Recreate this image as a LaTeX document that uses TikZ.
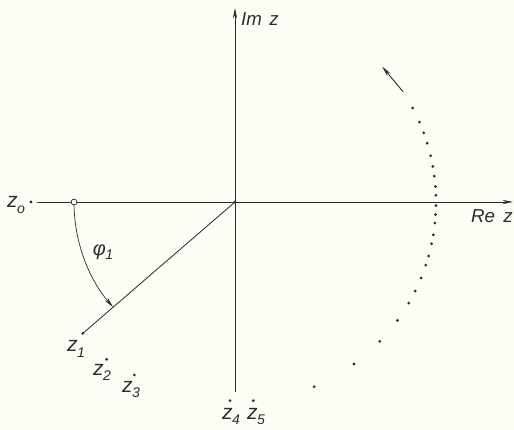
\documentclass[tikz,border=0pt]{standalone}
\usepackage{fontspec}
\setmainfont{Liberation Sans}
\usetikzlibrary{arrows.meta}
\definecolor{paper}{RGB}{253,253,246}
\definecolor{ink}{RGB}{45,45,45}
\newcommand{\zlab}[1]{\textit{z}\kern-0.5pt\raisebox{-0.45ex}{\fontsize{12}{12}\selectfont\textit{#1}}}
\begin{document}
\begin{tikzpicture}[x=0.03cm, y=0.03cm, every node/.style={font=\fontsize{16}{18}\selectfont\itshape, text=ink},
    pt/.style={circle, fill=ink, inner sep=0pt, minimum size=2.6pt},
    zname/.style={anchor=base west, inner sep=0pt, font=\fontsize{18}{20}\selectfont\itshape},
    tip/.style={-{Stealth[length=9pt, width=3.6pt]}}]
    \fill[paper] (-235,-228) rectangle (279,202);
    \useasboundingbox (-235,-228) rectangle (279,202);
    % axes
    \coordinate (O) at (0,0);
    \coordinate (xl) at (-198,0);
    \coordinate (xr) at (278,0);
    \coordinate (yb) at (0,-190);
    \coordinate (yt) at (0,194);
    \draw[ink, line width=0.8pt, tip] (xl) -- (xr);
    \draw[ink, line width=0.8pt, tip] (yb) -- (yt);
    \node (re) at (257,-14) {Re\hspace{0.45em}z};
    \node (im) at (25,182.5) {Im\hspace{0.4em}z};
    \node[pt] (o) at (O) {};
    % angle phi_1
    \coordinate (z1) at (220.8:201);
    \draw[ink, line width=0.7pt] (O) -- (z1);
    \node[pt] (p1) at (z1) {};
    \draw[ink, line width=0.6pt, tip] (-161,0) arc (180:220.8:161);
    \node[circle, draw=ink, fill=paper, line width=0.6pt, inner sep=0pt, minimum size=5pt] (c0) at (-161,0) {};
    \node[font=\fontsize{17}{19}\selectfont\itshape] (phi) at (-132,-50) {φ\kern-0.5pt\raisebox{-0.45ex}{\fontsize{12}{12}\selectfont\textit{1}}};
    % points z_k
    \node[pt] (p0) at (-204,0) {};
    \node[zname] (l0) at (-228,-6) {\zlab{o}};
    \node[zname] (l1) at (-168,-150) {\zlab{1}};
    \node[pt] (p2) at (-128.3,-157.3) {};
    \node[zname] (l2) at (-142,-173) {\zlab{2}};
    \node[pt] (p3) at (-100.7,-173) {};
    \node[zname] (l3) at (-113,-190) {\zlab{3}};
    \node[pt] (p4) at (-5,-198.7) {};
    \node[zname] (l4) at (-13,-217) {\zlab{4}};
    \node[pt] (p5) at (18.3,-198.7) {};
    \node[zname] (l5) at (12,-217) {\zlab{5}};
    \foreach \a in {293.2,306.3,316.1,323.9,329.8,333.7,337.8,341.7,344.4,348,350.6,354,356.4,359,1.9,4.4,7.4,10.2,13.3,17,20.1,23.4,27.9}
        \node[pt] at (\a:201) {};
    \coordinate (d1) at (33.3:201);
    \coordinate (d2) at (42.6:200);
    \draw[ink, line width=0.8pt, tip] (d1) -- (d2);
\end{tikzpicture}
\end{document}
